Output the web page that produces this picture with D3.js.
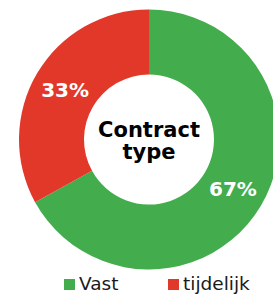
<!DOCTYPE html>
<html>
<head>
<meta charset="utf-8">
<script src="https://cdn.jsdelivr.net/npm/d3@7"></script>
<style>
  body { margin: 0; background: #fff; }
  svg { display: block; font-family: "DejaVu Sans", Verdana, sans-serif; }
</style>
</head>
<body>
<svg id="chart"></svg>
<script>
const width = 273;
const height = 296;

const categories = ["Vast", "tijdelijk"];
const values = [67, 33];
const colors = ["#43ad4e", "#e2382a"];
const title = ["Contract", "type"];

const svg = d3.select("#chart")
  .attr("width", width)
  .attr("height", height);

const cx = 149;
const cy = 139.5;
const outer = 130;
const inner = 65;

const data = categories.map((c, i) => ({ name: c, value: values[i], color: colors[i] }));

const pie = d3.pie()
  .sort(null)
  .value(d => d.value);

const arc = d3.arc()
  .innerRadius(inner)
  .outerRadius(outer);

const g = svg.append("g")
  .attr("transform", `translate(${cx},${cy})`);

const arcs = pie(data);

g.selectAll(".slice")
  .data(arcs)
  .join("path")
  .attr("class", "slice")
  .attr("d", arc)
  .attr("fill", d => d.data.color);

// percentage labels
g.selectAll(".pct")
  .data(arcs)
  .join("text")
  .attr("class", "pct")
  .attr("x", d => arc.centroid(d)[0])
  .attr("y", d => arc.centroid(d)[1])
  .attr("text-anchor", "middle")
  .attr("dominant-baseline", "central")
  .attr("fill", "#fff")
  .attr("font-weight", "bold")
  .attr("font-size", 20)
  .text(d => d.data.value + "%");

// center title
g.selectAll(".title")
  .data(title)
  .join("text")
  .attr("class", "title")
  .attr("x", 0)
  .attr("y", (d, i) => -3 + i * 22)
  .attr("text-anchor", "middle")
  .attr("fill", "#000")
  .attr("font-weight", "bold")
  .attr("font-size", 21)
  .text(d => d);

// legend
const legendX = [64, 168];
const legend = svg.selectAll(".legend")
  .data(data)
  .join("g")
  .attr("class", "legend")
  .attr("transform", (d, i) => `translate(${legendX[i]},279)`);

legend.append("rect")
  .attr("width", 11)
  .attr("height", 11)
  .attr("fill", d => d.color);

legend.append("text")
  .attr("x", 15)
  .attr("y", 11)
  .attr("fill", "#1a1a1a")
  .attr("font-size", 18.5)
  .text(d => d.name);
</script>
</body>
</html>
